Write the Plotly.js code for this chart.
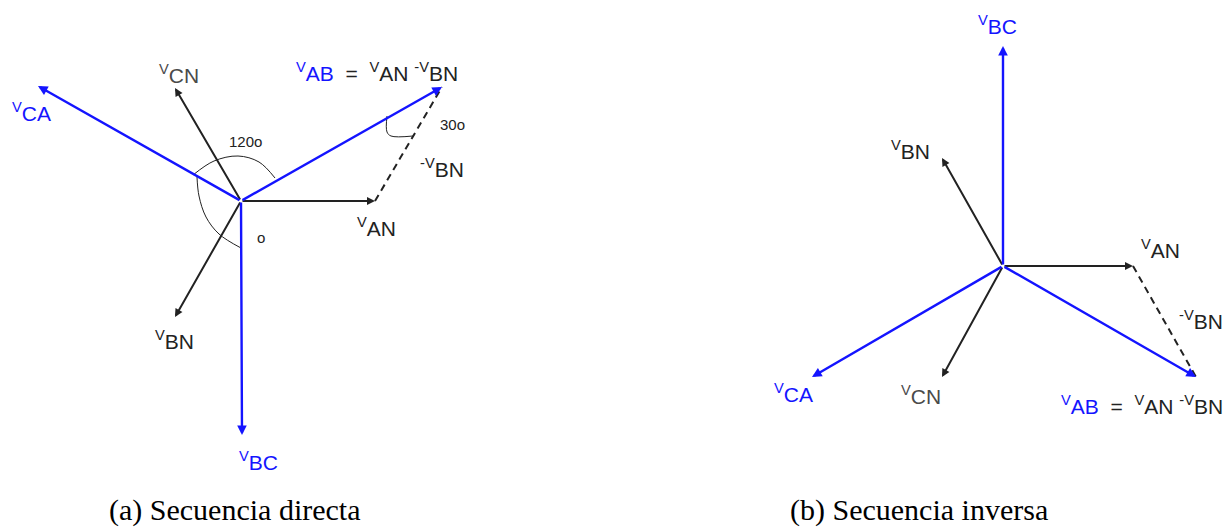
<!DOCTYPE html>
<html>
<head>
<meta charset="utf-8">
<script src="https://cdn.plot.ly/plotly-3.0.1.min.js"></script>
<style>html,body{margin:0;padding:0;background:#fff}#chart{width:1231px;height:528px}</style>
</head>
<body>
<div id="chart"></div>
<script>
// ---- data (pixel-like units, y grows downward) ----
const phasorNames = ['AN', 'BN', 'CN', 'AB', 'BC', 'CA'];
const phasorIsLine = [false, false, false, true, true, true];
// (a) Secuencia directa
const leftOrigin = [241, 201];
const leftTipX = [375, 175, 175, 442, 242, 38];
const leftTipY = [201, 317, 88, 87, 435, 86];
// (b) Secuencia inversa
const rightOrigin = [1003, 266];
const rightTipX = [1133, 942, 942, 1196, 1003, 812];
const rightTipY = [266, 158, 377, 377, 46, 377];
// angle marks
const arc120X = [193, 214, 238, 259, 275];
const arc120Y = [175, 161, 156, 162, 178];
const arcOX = [197, 199, 206, 219, 241];
const arcOY = [177, 196, 217, 234, 248];
const mark30X = [387, 387, 391, 413];
const mark30Y = [116, 132, 136, 136];
// label positions [x(left), y(middle)]
const leftLabelX = [355, 153, 157, 294, 237, 10];
const leftLabelY = [227, 340, 74, 72, 461, 112];
const rightLabelX = [1139, 889, 899, 1059, 976, 772];
const rightLabelY = [249, 150, 395, 405, 25, 393];
const captions = ['(a) Secuencia directa', '(b) Secuencia inversa'];
const captionX = [235, 919];
const captionY = [510, 510];

const BLUE = '#1414ff';
const BLACK = '#222222';
const FONT = 'Liberation Sans, Arial, sans-serif';
const FS = 21;
const NB = '\u00A0';

function lbl(name) { return '<sup>V</sup>' + name; }
function labelText(i) {
  const n = phasorNames[i];
  if (n === 'AB') {
    return '<span style="color:' + BLUE + '">' + lbl('AB') + '</span>' + NB + NB + '=' + NB + NB +
      lbl('AN') + NB + '<sup>-V</sup>BN';
  }
  return lbl(n);
}
function labelColor(i) {
  if (phasorIsLine[i]) return BLUE;
  if (phasorNames[i] === 'CN') return '#4a4a4a';
  return BLACK;
}

const traces = [];
const annotations = [];

function addDiagram(origin, tipX, tipY, labX, labY) {
  const iAN = phasorNames.indexOf('AN');
  const iAB = phasorNames.indexOf('AB');
  // dashed -V_BN
  traces.push({
    type: 'scatter', mode: 'lines', hoverinfo: 'skip', showlegend: false,
    x: [tipX[iAN], tipX[iAB]], y: [tipY[iAN], tipY[iAB]],
    line: {color: BLACK, width: 2, dash: '7px,5px'}
  });
  phasorNames.forEach((n, i) => {
    annotations.push({
      x: tipX[i], y: tipY[i], ax: origin[0], ay: origin[1],
      xref: 'x', yref: 'y', axref: 'x', ayref: 'y',
      text: '', showarrow: true, arrowhead: 2, arrowsize: 0.8,
      arrowwidth: phasorIsLine[i] ? 2.4 : 2,
      arrowcolor: phasorIsLine[i] ? BLUE : BLACK, standoff: 0, startstandoff: 0
    });
    annotations.push({
      x: labX[i], y: labY[i], xref: 'x', yref: 'y', showarrow: false,
      xanchor: 'left', yanchor: 'middle', text: labelText(i),
      font: {family: FONT, size: FS, color: n === 'AB' ? BLACK : labelColor(i)}
    });
  });
}

addDiagram(leftOrigin, leftTipX, leftTipY, leftLabelX, leftLabelY);
addDiagram(rightOrigin, rightTipX, rightTipY, rightLabelX, rightLabelY);

// -V_BN labels
annotations.push({x: 418, y: 168, xref: 'x', yref: 'y', showarrow: false, xanchor: 'left', yanchor: 'middle',
  text: '<sup>-V</sup>BN', font: {family: FONT, size: FS, color: BLACK}});
annotations.push({x: 1177, y: 320, xref: 'x', yref: 'y', showarrow: false, xanchor: 'left', yanchor: 'middle',
  text: '<sup>-V</sup>BN', font: {family: FONT, size: FS, color: BLACK}});
// angle labels
annotations.push({x: 227, y: 141, xref: 'x', yref: 'y', showarrow: false, xanchor: 'left', yanchor: 'middle',
  text: '120o', font: {family: FONT, size: 15, color: BLACK}});
annotations.push({x: 438, y: 124, xref: 'x', yref: 'y', showarrow: false, xanchor: 'left', yanchor: 'middle',
  text: '30o', font: {family: FONT, size: 15, color: BLACK}});
annotations.push({x: 255, y: 237, xref: 'x', yref: 'y', showarrow: false, xanchor: 'left', yanchor: 'middle',
  text: 'o', font: {family: FONT, size: 15, color: BLACK}});

// arcs
[[arc120X, arc120Y], [arcOX, arcOY], [mark30X, mark30Y]].forEach(([xs, ys]) => {
  traces.push({type: 'scatter', mode: 'lines', hoverinfo: 'skip', showlegend: false,
    x: xs, y: ys, line: {color: BLACK, width: 1, shape: 'spline', smoothing: 1}});
});

// captions
captions.forEach((c, i) => {
  annotations.push({x: captionX[i], y: captionY[i], xref: 'x', yref: 'y', showarrow: false,
    xanchor: 'center', yanchor: 'middle', text: c,
    font: {family: 'Liberation Serif, Times New Roman, serif', size: 30, color: '#000'}});
});

const layout = {
  width: 1231, height: 528,
  margin: {l: 0, r: 0, t: 0, b: 0, pad: 0},
  paper_bgcolor: '#fff', plot_bgcolor: '#fff',
  xaxis: {range: [0, 1231], visible: false, fixedrange: true},
  yaxis: {range: [528, 0], visible: false, fixedrange: true},
  showlegend: false,
  annotations: annotations
};
Plotly.newPlot('chart', traces, layout, {staticPlot: true, displayModeBar: false});
</script>
</body>
</html>
